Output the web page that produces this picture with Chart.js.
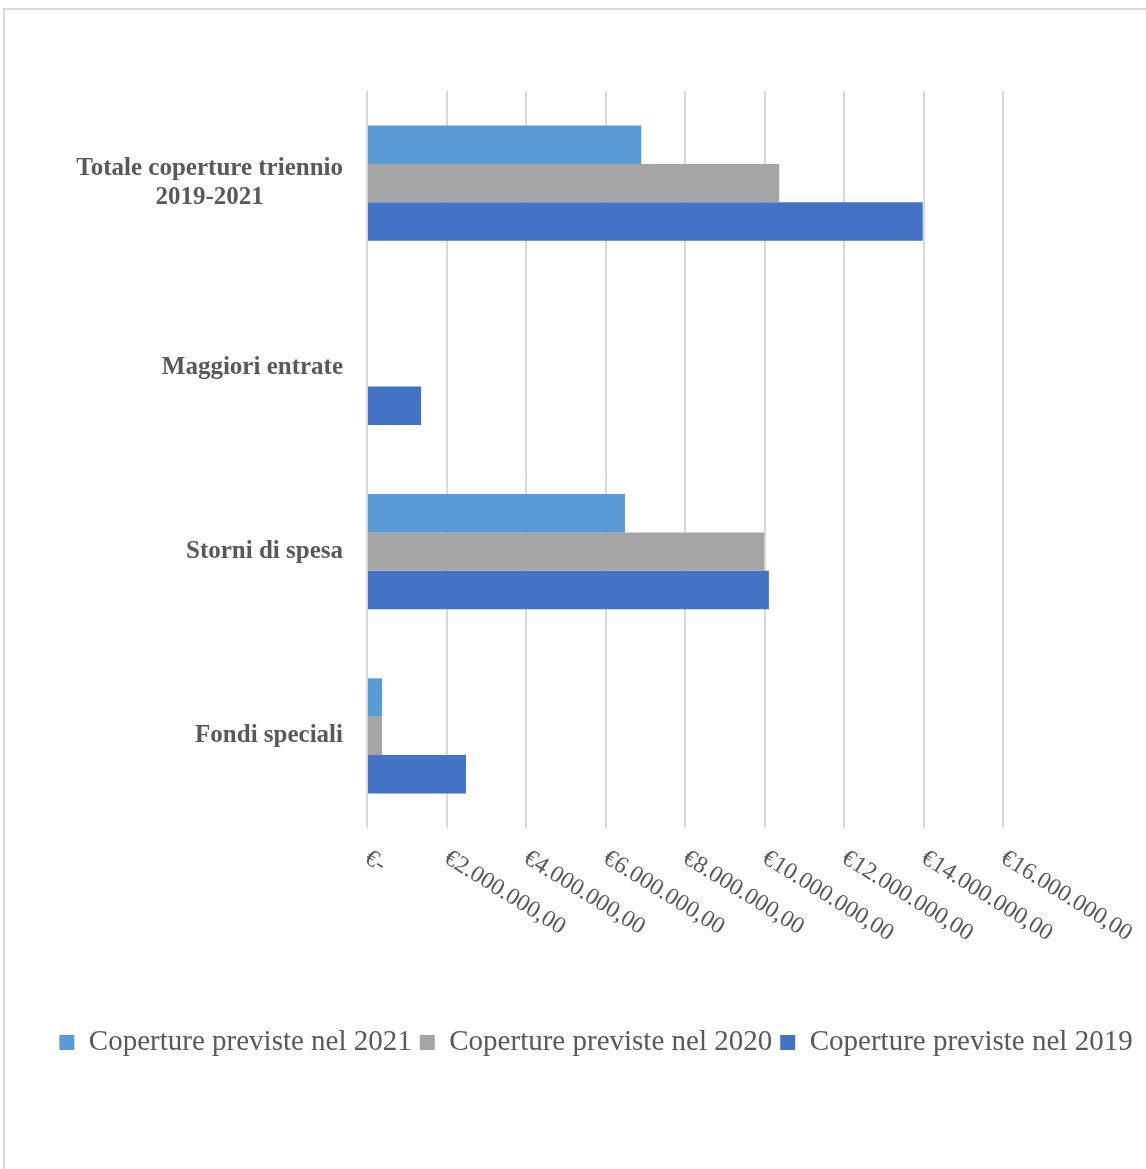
<!DOCTYPE html>
<html>
<head>
<meta charset="utf-8">
<script src="https://cdn.jsdelivr.net/npm/chart.js@4"></script>
<style>
  body { margin: 0; background: #fff; overflow: hidden; }
  #frame { position: absolute; left: 3px; top: 8px; width: 1200px; height: 1200px; border: 2px solid #d9d9d9; }
  #wrap { position: absolute; left: 0; top: 0; width: 1146px; height: 1169px; }
</style>
</head>
<body>
<div id="frame"></div>
<div id="wrap"><canvas id="barChart"></canvas></div>
<script>
const ctx = document.getElementById('barChart').getContext('2d');

const categories = [['Totale coperture triennio', '2019-2021'], 'Maggiori entrate', 'Storni di spesa', 'Fondi speciali'];
const seriesNames = ['Coperture previste nel 2021', 'Coperture previste nel 2020', 'Coperture previste nel 2019'];
const values2021 = [6900000, 0, 6490000, 380000];
const values2020 = [10370000, 0, 9990000, 380000];
const values2019 = [13980000, 1360000, 10110000, 2490000];
const colors = ['#5B9BD5', '#A5A5A5', '#4472C4'];
const tickStep = 2000000;
const tickMax = 16000000;

const textColor = '#595959';
const serif = "'Liberation Serif', 'DejaVu Serif', serif";

// formato euro italiano: €2.000.000,00
function euro(v) {
    if (v === 0) return '€-';
    const s = String(Math.round(v)).replace(/\B(?=(\d{3})+(?!\d))/g, '.');
    return '€' + s + ',00';
}

// etichette asse x ruotate verso il basso
const xLabels = {
    id: 'xLabels',
    afterDraw(chart) {
        const x = chart.scales.x;
        const c = chart.ctx;
        c.save();
        c.fillStyle = textColor;
        c.font = '24px ' + serif;
        c.textAlign = 'left';
        c.textBaseline = 'top';
        x.ticks.forEach(t => {
            const px = x.getPixelForValue(t.value);
            c.save();
            c.translate(px + 6, 846);
            c.rotate(32 * Math.PI / 180);
            c.fillText(euro(t.value), 0, 0);
            c.restore();
        });
        c.restore();
    }
};

// etichette categorie, blocco allineato a destra, righe centrate
const yLabels = {
    id: 'yLabels',
    afterDraw(chart) {
        const y = chart.scales.y;
        const c = chart.ctx;
        c.save();
        c.fillStyle = textColor;
        c.font = 'bold 25px ' + serif;
        c.textBaseline = 'middle';
        c.textAlign = 'center';
        const right = 343;
        const lh = 29;
        categories.forEach((lab, i) => {
            const lines = Array.isArray(lab) ? lab : [lab];
            const w = Math.max(...lines.map(l => c.measureText(l).width));
            const cy = y.getPixelForValue(i);
            lines.forEach((l, j) => {
                c.fillText(l, right - w / 2, cy + (j - (lines.length - 1) / 2) * lh);
            });
        });
        c.restore();
    }
};

const chart = new Chart(ctx, {
    type: 'bar',
    data: {
        labels: categories,
        datasets: [
            { label: seriesNames[0], data: values2021, backgroundColor: colors[0] },
            { label: seriesNames[1], data: values2020, backgroundColor: colors[1] },
            { label: seriesNames[2], data: values2019, backgroundColor: colors[2] }
        ]
    },
    options: {
        indexAxis: 'y',
        responsive: true,
        maintainAspectRatio: false,
        animation: false,
        categoryPercentage: 0.625,
        barPercentage: 1,
        layout: { padding: { left: 46, right: 0, top: 91, bottom: 102 } },
        plugins: {
            legend: {
                position: 'bottom',
                labels: {
                    boxWidth: 15,
                    boxHeight: 15,
                    padding: 8,
                    color: textColor,
                    font: { family: serif, size: 29 }
                }
            },
            tooltip: { enabled: false }
        },
        scales: {
            x: {
                min: 0,
                max: tickMax,
                ticks: { stepSize: tickStep, display: false },
                grid: { color: '#d9d9d9', lineWidth: 2, drawTicks: false },
                border: { display: false },
                afterFit(s) { s.height = 192; }
            },
            y: {
                ticks: { display: false },
                grid: { display: false, drawTicks: false },
                border: { display: false },
                afterFit(s) { s.width = 321; }
            },
            yRight: {
                type: 'category',
                position: 'right',
                labels: [''],
                ticks: { display: false },
                grid: { display: false, drawTicks: false },
                border: { display: false },
                afterFit(s) { s.width = 143; }
            }
        }
    },
    plugins: [xLabels, yLabels]
});
</script>
</body>
</html>
